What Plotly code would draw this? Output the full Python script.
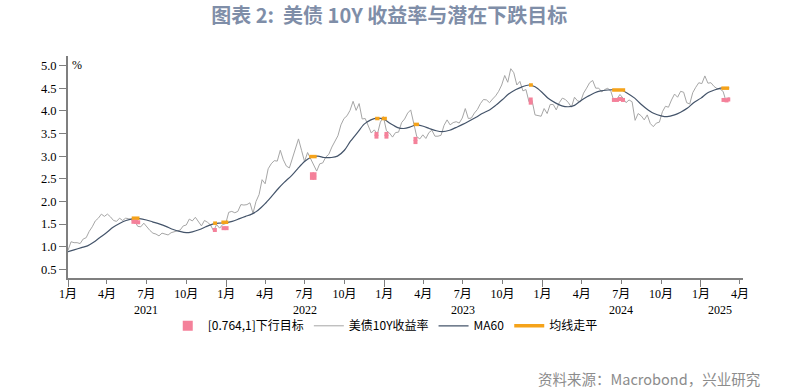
import pandas as pd
import plotly.graph_objects as go

# ---------------- data ----------------
# US 10Y yield, weekly (Fridays) from 2021-01-01
y2021 = [0.92, 1.11, 1.09, 1.09, 1.07, 1.17, 1.20, 1.34, 1.44, 1.57, 1.63, 1.72, 1.67,
         1.72, 1.66, 1.58, 1.56, 1.63, 1.58, 1.63, 1.62, 1.59, 1.56, 1.45, 1.44, 1.52,
         1.43, 1.36, 1.30, 1.28, 1.24, 1.30, 1.28, 1.26, 1.31, 1.33, 1.34, 1.37, 1.46,
         1.48, 1.61, 1.57, 1.65, 1.56, 1.46, 1.58, 1.54, 1.48, 1.35, 1.49, 1.41, 1.49, 1.51]
y2022 = [1.76, 1.78, 1.75, 1.78, 1.93, 1.92, 1.93, 1.97, 1.74, 2.00, 2.15, 2.48,
         2.39, 2.72, 2.83, 2.90, 2.89, 3.13, 2.92, 2.78, 2.74, 2.94, 3.16, 3.38, 3.13,
         2.88, 3.08, 2.93, 2.78, 2.67, 2.83, 2.85, 2.98, 3.04, 3.20, 3.32, 3.45, 3.69,
         3.83, 3.89, 4.01, 4.21, 4.01, 4.16, 3.82, 3.83, 3.68, 3.51, 3.58, 3.48, 3.75, 3.87]
y2023 = [3.56, 3.51, 3.42, 3.52, 3.53, 3.74, 3.82, 3.95, 4.02, 3.70, 3.43, 3.38, 3.47,
         3.39, 3.52, 3.57, 3.44, 3.44, 3.46, 3.68, 3.80, 3.69, 3.74, 3.76, 3.73, 3.84,
         4.05, 3.83, 3.84, 3.95, 4.03, 4.16, 4.25, 4.24, 4.18, 4.26, 4.33, 4.43, 4.57,
         4.78, 4.63, 4.93, 4.84, 4.57, 4.65, 4.44, 4.47, 4.20, 4.23, 3.91, 3.90, 3.88]
y2024 = [4.05, 3.94, 4.14, 4.14, 4.02, 4.18, 4.28, 4.25, 4.18, 4.08, 4.30, 4.22, 4.20,
         4.39, 4.50, 4.62, 4.67, 4.50, 4.50, 4.42, 4.47, 4.50, 4.43, 4.22, 4.26, 4.36,
         4.28, 4.18, 4.24, 4.20, 3.79, 3.94, 3.89, 3.80, 3.91, 3.72, 3.65, 3.73, 3.75,
         3.98, 4.10, 4.08, 4.24, 4.37, 4.30, 4.43, 4.41, 4.18, 4.15, 4.40, 4.52, 4.62]
y2025 = [4.60, 4.77, 4.61, 4.62, 4.54, 4.49, 4.48, 4.43, 4.21, 4.30]
yields = y2021 + y2022 + y2023 + y2024 + y2025
yield_dates = pd.date_range("2021-01-01", periods=len(yields), freq="7D")

# MA60 read on the 1st and 15th of each month
ma_dates = pd.to_datetime([
    "2021-01-01", "2021-01-15", "2021-02-01", "2021-02-15", "2021-03-01", "2021-03-15",
    "2021-04-01", "2021-04-15", "2021-05-01", "2021-05-15", "2021-06-01", "2021-06-15",
    "2021-07-01", "2021-07-15", "2021-08-01", "2021-08-15", "2021-09-01", "2021-09-15",
    "2021-10-01", "2021-10-15", "2021-11-01", "2021-11-15", "2021-12-01", "2021-12-15",
    "2022-01-01", "2022-01-15", "2022-02-01", "2022-02-15", "2022-03-01", "2022-03-15",
    "2022-04-01", "2022-04-15", "2022-05-01", "2022-05-15", "2022-06-01", "2022-06-15",
    "2022-07-01", "2022-07-15", "2022-08-01", "2022-08-15", "2022-09-01", "2022-09-15",
    "2022-10-01", "2022-10-15", "2022-11-01", "2022-11-15", "2022-12-01", "2022-12-15",
    "2023-01-01", "2023-01-15", "2023-02-01", "2023-02-15", "2023-03-01", "2023-03-15",
    "2023-04-01", "2023-04-15", "2023-05-01", "2023-05-15", "2023-06-01", "2023-06-15",
    "2023-07-01", "2023-07-15", "2023-08-01", "2023-08-15", "2023-09-01", "2023-09-15",
    "2023-10-01", "2023-10-15", "2023-11-01", "2023-11-15", "2023-12-01", "2023-12-15",
    "2024-01-01", "2024-01-15", "2024-02-01", "2024-02-15", "2024-03-01", "2024-03-15",
    "2024-04-01", "2024-04-15", "2024-05-01", "2024-05-15", "2024-06-01", "2024-06-15",
    "2024-07-01", "2024-07-15", "2024-08-01", "2024-08-15", "2024-09-01", "2024-09-15",
    "2024-10-01", "2024-10-15", "2024-11-01", "2024-11-15", "2024-12-01", "2024-12-15",
    "2025-01-01", "2025-01-15", "2025-02-01", "2025-02-15", "2025-03-01", "2025-03-07"])
ma60 = [0.89, 0.93, 0.98, 1.02, 1.10, 1.20, 1.32, 1.43, 1.52, 1.58, 1.62, 1.62,
        1.59, 1.55, 1.50, 1.45, 1.38, 1.34, 1.31, 1.33, 1.38, 1.44, 1.50, 1.52,
        1.53, 1.56, 1.62, 1.67, 1.72, 1.80, 1.95, 2.10, 2.28, 2.42, 2.57, 2.72,
        2.88, 2.97, 3.00, 2.97, 2.97, 3.00, 3.13, 3.33, 3.53, 3.70, 3.80, 3.84,
        3.81, 3.72, 3.63, 3.61, 3.64, 3.69, 3.66, 3.61, 3.56, 3.54, 3.57, 3.63,
        3.70, 3.77, 3.86, 3.94, 4.02, 4.12, 4.25, 4.37, 4.47, 4.53, 4.57, 4.53,
        4.40, 4.27, 4.17, 4.11, 4.09, 4.12, 4.24, 4.32, 4.40, 4.44, 4.46, 4.47,
        4.46, 4.39, 4.28, 4.15, 4.02, 3.94, 3.89, 3.87, 3.91, 3.97, 4.06, 4.18,
        4.28, 4.39, 4.46, 4.50, 4.51, 4.50]

# periods where the moving average goes flat
flat_start = ["2021-05-28", "2021-12-02", "2021-12-21", "2022-07-12", "2022-12-11",
              "2022-12-26", "2023-03-10", "2023-12-01", "2024-06-10", "2025-02-17"]
flat_end = ["2021-06-15", "2021-12-11", "2022-01-06", "2022-07-29", "2022-12-21",
            "2023-01-07", "2023-03-22", "2023-12-10", "2024-07-10", "2025-03-07"]
flat_level = [1.63, 1.52, 1.54, 2.99, 3.83, 3.83, 3.70, 4.57, 4.46, 4.50]

# downside targets [0.764, 1]
target_dates = ["2021-06-01", "2021-06-07", "2021-06-12",
                "2021-12-06", "2021-12-26", "2022-01-02",
                "2022-07-18", "2022-07-18", "2022-07-24", "2022-07-24",
                "2022-12-14", "2022-12-14", "2023-01-06", "2023-01-06",
                "2023-03-14", "2023-03-14",
                "2023-12-05", "2023-12-05",
                "2024-06-14", "2024-06-21", "2024-06-28", "2024-07-05",
                "2025-02-22", "2025-03-01", "2025-03-05"]
target_vals = [1.55, 1.55, 1.54,
               1.37, 1.41, 1.41,
               2.60, 2.52, 2.60, 2.52,
               3.49, 3.43, 3.49, 3.43,
               3.38, 3.31,
               4.25, 4.18,
               4.24, 4.24, 4.26, 4.24,
               4.24, 4.23, 4.25]

years = [2021, 2022, 2023, 2024, 2025]
month_ticks = pd.date_range("2021-01-01", "2025-04-01", freq="QS")
month_labels = [f"{d.month}月" for d in month_ticks]
jan_ticks = pd.date_range("2021-01-01", "2025-01-01", freq="YS")
year_label_pos = [f"{y}-07-01" for y in years[:-1]] + ["2025-02-15"]
y_ticks = [0.5, 1.0, 1.5, 2.0, 2.5, 3.0, 3.5, 4.0, 4.5, 5.0]

# ---------------- figure ----------------
flat_x, flat_y = [], []
for s, e, v in zip(flat_start, flat_end, flat_level):
    flat_x += [s, e, None]
    flat_y += [v, v, None]

PINK = "#F4819A"
fig = go.Figure()
fig.add_trace(go.Scatter(x=yield_dates, y=yields, mode="lines", name="美债10Y收益率",
                         line=dict(color="#A6A6A6", width=1), legendrank=2))
fig.add_trace(go.Scatter(x=ma_dates, y=ma60, mode="lines", name="MA60",
                         line=dict(color="#44546A", width=1.2, shape="spline", smoothing=0.8),
                         legendrank=3))
fig.add_trace(go.Scatter(x=flat_x, y=flat_y, mode="lines", name="均线走平",
                         line=dict(color="#F5A31A", width=3.5), legendrank=4))
fig.add_trace(go.Scatter(x=target_dates, y=target_vals, mode="markers", name="[0.764,1]下行目标",
                         marker=dict(color=PINK, symbol="square", size=4, line=dict(width=0)),
                         showlegend=False, legendgroup="t"))
# legend entry for the targets (bigger square)
fig.add_trace(go.Scatter(x=[None], y=[None], mode="markers", name="[0.764,1]下行目标",
                         marker=dict(color=PINK, symbol="square", size=10, line=dict(width=0)),
                         legendrank=1, legendgroup="t"))
# long ticks at each January
fig.add_trace(go.Scatter(x=[jan_ticks[0]], y=[None], xaxis="x2", showlegend=False,
                         hoverinfo="skip"))

serif = "Liberation Serif, Noto Sans CJK SC"
fig.update_layout(
    width=796, height=389,
    margin=dict(l=68, r=53, t=56, b=111),
    paper_bgcolor="white", plot_bgcolor="white",
    font=dict(family=serif, size=12, color="#000000"),
    title=dict(text="<b>图表 2:  美债 10Y 收益率与潜在下跌目标</b>",
               x=0.489, xanchor="center", y=0.959, yanchor="middle",
               font=dict(family="Noto Sans CJK SC", size=20, color="#7F8EA8")),
    showlegend=True,
    legend=dict(orientation="h", x=0.47, xanchor="center", y=-0.15, yanchor="top",
                font=dict(family="Noto Sans CJK SC", size=12, color="#000000"),
                itemwidth=30, tracegroupgap=0, bgcolor="rgba(0,0,0,0)"),
    xaxis=dict(range=["2021-01-01", "2025-04-08"], tickmode="array",
               tickvals=month_ticks, ticktext=month_labels,
               ticks="outside", ticklen=4, tickwidth=1, tickcolor="#7F7F7F",
               showline=True, linecolor="#7F7F7F", linewidth=2, showgrid=False,
               zeroline=False, tickfont=dict(family=serif, size=12)),
    xaxis2=dict(range=["2021-01-01", "2025-04-08"], overlaying="x", anchor="y", side="bottom",
                tickmode="array", tickvals=jan_ticks, ticks="outside", ticklen=8,
                tickwidth=1, tickcolor="#7F7F7F", showticklabels=False, showline=False,
                showgrid=False, zeroline=False),
    yaxis=dict(range=[0.31, 5.21], tickmode="array", tickvals=y_ticks,
               ticktext=[f"{v:.1f}" for v in y_ticks],
               ticks="outside", ticklen=7, tickwidth=1, tickcolor="#7F7F7F",
               showline=True, linecolor="#7F7F7F", linewidth=2, showgrid=False,
               zeroline=False, tickfont=dict(family=serif, size=12.5)),
)

for y, pos in zip(years, year_label_pos):
    fig.add_annotation(x=pos, y=-0.145, xref="x", yref="paper", text=str(y),
                       showarrow=False, font=dict(family=serif, size=12), yanchor="middle")

fig.add_annotation(x=0.013, y=0.96, xref="paper", yref="paper", text="%", showarrow=False,
                   font=dict(family=serif, size=12), xanchor="center", yanchor="middle")
fig.add_annotation(x=(762 - 68) / 675, y=(278 - 378) / 222, xref="paper", yref="paper",
                   text="资料来源：Macrobond，兴业研究", showarrow=False,
                   xanchor="right", yanchor="middle",
                   font=dict(family="Noto Sans CJK SC", size=14.5, color="#8C8C8C"))

fig.write_html("out.html", config={"displayModeBar": False},
               post_script="document.body.style.margin='0';")
